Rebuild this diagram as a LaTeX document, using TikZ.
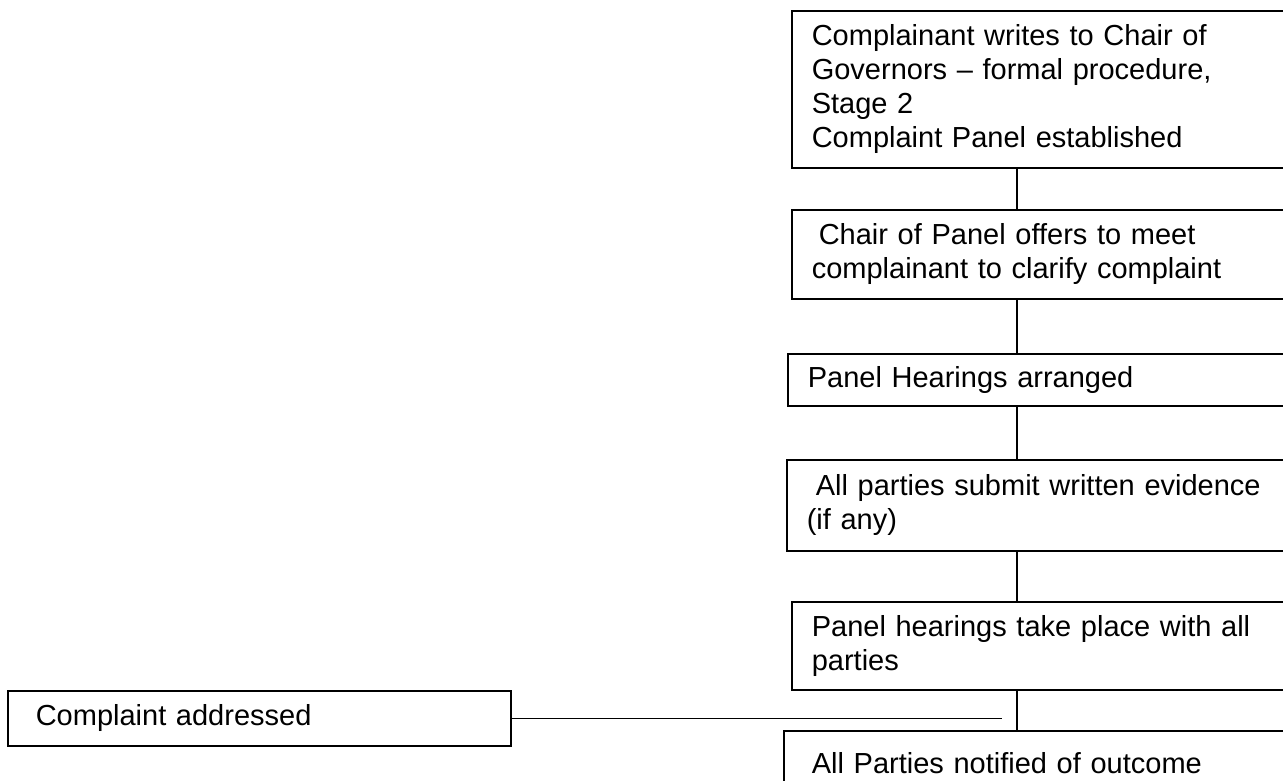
\documentclass[tikz,border=0pt]{standalone}
\usepackage{fontspec}
\setmainfont{Liberation Sans}

\begin{document}
\begin{tikzpicture}
  [x=1pt,y=-1pt,line width=1.6pt,
   every node/.style={draw,anchor=north west,align=left,inner xsep=20pt,inner ysep=0pt,
     text width=480pt,font=\fontsize{29}{34}\selectfont}]
  \useasboundingbox (0,0) rectangle (1283,780);
  \clip (0,0) rectangle (1283,780);

  \node[minimum height=157pt] (c1) at (791,10) {Complainant writes to Chair of\\Governors -- formal procedure,\\Stage 2\\Complaint Panel established};
  \node[minimum height=89pt] (c2) at (791,209) {\hspace{7pt}Chair of Panel offers to meet\\complainant to clarify complaint};
  \node[minimum height=52pt] (c3) at (787,353) {Panel Hearings arranged};
  \node[minimum height=91pt] (c4) at (786,459) {\hspace{9pt}All parties submit written evidence\\(if any)};
  \node[minimum height=88pt] (c5) at (791,601) {Panel hearings take place with all\\parties};
  \node[minimum height=64pt,inner xsep=28pt] (c6) at (783,730) {All Parties notified of outcome};
  \node[minimum height=55pt,inner xsep=28pt,text width=447pt] (addr) at (7,690) {Complaint addressed};

  \coordinate (spine) at (1017,0);
  \coordinate (stop) at (1002,0);

  \foreach \from/\to in {c1/c2,c2/c3,c3/c4,c4/c5,c5/c6}
    \draw (\from.south -| spine) -- (\to.north -| spine);

  \draw (addr.east) -- (addr.east -| stop);

\end{tikzpicture}
\end{document}
